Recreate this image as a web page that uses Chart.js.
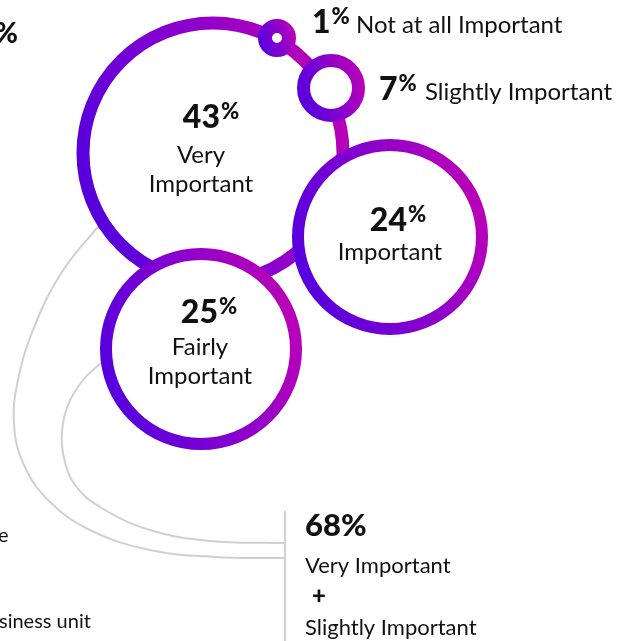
<!DOCTYPE html>
<html>
<head>
<meta charset="utf-8">
<script src="https://cdn.jsdelivr.net/npm/chart.js@4.4.1/dist/chart.umd.min.js"></script>
<style>
  html, body { margin: 0; padding: 0; background: #fff; }
  #wrap { width: 629px; height: 641px; overflow: hidden; }
</style>
</head>
<body>
<div id="wrap"><canvas id="myChart" width="629" height="641"></canvas></div>
<script>
// survey answers, in drawing order (big circle first)
const categories = ["Very Important", "Fairly Important", "Important", "Slightly Important", "Not at all Important"];
const shares = [43, 25, 24, 7, 1];
const combinedShare = 68;
const combinedLabel = ["Very Important", "+", "Slightly Important"];

// where each ring sits on the page (x/y in page units, r = ring radius in px)
const bubbleX = [213, 201, 390, 331, 277];
const bubbleY = [153, 349, 237, 88, 38];
const bubbleR = [130, 95, 92, 27.5, 12];
const ringWidth = [13, 12, 12, 13, 14];

// grey connector curves
const curveOuter = [[112,212],[97,228],[62,272],[35,325],[18,380],[14,425],[24,465],[48,500],[90,530],[150,550],[215,557],[285,558]];
const curveInner = [[110,356],[100,364],[83,380],[68,405],[62,432],[64,458],[75,485],[100,507],[150,530],[210,541],[285,543]];
const ruleLine = [[285,511],[285,641]];

// label offsets relative to each ring centre
const labelPos = [
  { side: "in", pctDx: -2, pctDy: -25, textDx: -12, textDy: 10 },
  { side: "in", pctDx: 8, pctDy: -26, textDx: -1, textDy: 6 },
  { side: "in", pctDx: 8, pctDy: -6, textDx: 0, textDy: 23 },
  { side: "out", pctDx: 48, pctDy: 12, textDx: 94 },
  { side: "out", pctDx: 35, pctDy: -5, textDx: 79 }
];

const W = 629, H = 641;
const INK = "#111";
const FONT = "Lato, 'Open Sans', sans-serif";

function toPts(arr) {
  return arr.map((p) => ({ x: p[0], y: p[1] }));
}

function ringGradient(context) {
  const chart = context.chart;
  const i = context.dataIndex;
  if (!chart.scales.x || !chart.scales.y || i === undefined) return "#7a00d4";
  const cx = chart.scales.x.getPixelForValue(bubbleX[i]);
  const cy = chart.scales.y.getPixelForValue(bubbleY[i]);
  if (!isFinite(cx) || !isFinite(cy)) return "#7a00d4";
  const r = bubbleR[i] + ringWidth[i] / 2;
  const g = chart.ctx.createLinearGradient(cx - r, cy + r * 0.35, cx + r, cy - r * 0.35);
  g.addColorStop(0, "#5200de");
  g.addColorStop(0.5, "#8500cf");
  g.addColorStop(1, "#bd00b6");
  return g;
}

// percent with the small raised % sign
function drawPct(ctx, value, x, y, align, size) {
  const big = "900 " + size + "px " + FONT;
  const small = "900 " + Math.round(size * 0.68) + "px " + FONT;
  ctx.font = big;
  const w1 = ctx.measureText(String(value)).width;
  ctx.font = small;
  const w2 = ctx.measureText("%").width;
  let left = align === "center" ? x - (w1 + 1 + w2) / 2 : x;
  ctx.textAlign = "left";
  ctx.font = big;
  ctx.fillText(String(value), left, y);
  ctx.font = small;
  ctx.fillText("%", left + w1 + 1, y - size * 0.27);
}

const labelPlugin = {
  id: "labels",
  afterDatasetsDraw(chart) {
    const ctx = chart.ctx;
    const meta = chart.getDatasetMeta(0);
    ctx.save();
    ctx.fillStyle = INK;
    ctx.textBaseline = "alphabetic";
    meta.data.forEach((el, i) => {
      const lp = labelPos[i];
      if (lp.side === "in") {
        drawPct(ctx, shares[i], el.x + lp.pctDx, el.y + lp.pctDy, "center", 32);
        const words = categories[i].split(" ");
        ctx.font = "400 24px " + FONT;
        ctx.textAlign = "center";
        words.forEach((w, k) => {
          ctx.fillText(w, el.x + lp.textDx, el.y + lp.textDy + k * 29);
        });
      } else {
        drawPct(ctx, shares[i], el.x + lp.pctDx, el.y + lp.pctDy, "left", 32);
        ctx.font = "400 24px " + FONT;
        ctx.textAlign = "left";
        ctx.fillText(categories[i], el.x + lp.textDx, el.y + lp.pctDy);
      }
    });

    // combined block, bottom right
    ctx.textAlign = "left";
    ctx.font = "900 31px " + FONT;
    ctx.fillText(combinedShare + "%", 305, 536);
    ctx.font = "400 22px " + FONT;
    ctx.fillText(combinedLabel[0], 305, 573);
    ctx.font = "900 24px " + FONT;
    ctx.fillText(combinedLabel[1], 312, 604);
    ctx.font = "400 22px " + FONT;
    ctx.fillText(combinedLabel[2], 305, 635);

    // text cut off at the left edge of the crop
    ctx.font = "900 28px " + FONT;
    ctx.textAlign = "right";
    ctx.fillText("%", 18, 43);
    ctx.font = "400 20px " + FONT;
    ctx.textAlign = "left";
    ctx.fillText("e", -2, 542);
    ctx.fillText("siness unit", -1, 628);
    ctx.restore();
  }
};

const greyLine = {
  type: "line",
  borderColor: "#d0d0d0",
  borderWidth: 2,
  pointRadius: 0,
  fill: false,
  tension: 0.4,
  clip: false,
  order: 1
};

var ctx = document.getElementById("myChart").getContext("2d");
var chart = new Chart(ctx, {
  type: "bubble",
  data: {
    datasets: [
      {
        label: "Importance",
        data: shares.map((v, i) => ({ x: bubbleX[i], y: bubbleY[i], r: bubbleR[i] })),
        backgroundColor: "#ffffff",
        borderColor: ringGradient,
        borderWidth: (c) => ringWidth[c.dataIndex] || 12,
        clip: false,
        order: 0
      },
      Object.assign({ label: "link1", data: toPts(curveOuter) }, greyLine),
      Object.assign({ label: "link2", data: toPts(curveInner) }, greyLine),
      Object.assign({ label: "rule", data: toPts(ruleLine) }, greyLine, { tension: 0 })
    ]
  },
  options: {
    responsive: false,
    animation: false,
    events: [],
    layout: { padding: 0, autoPadding: false },
    plugins: {
      legend: { display: false },
      tooltip: { enabled: false }
    },
    scales: {
      x: { type: "linear", min: 0, max: W, display: false },
      y: { type: "linear", min: 0, max: H, reverse: true, display: false }
    }
  },
  plugins: [labelPlugin]
});
</script>
</body>
</html>
